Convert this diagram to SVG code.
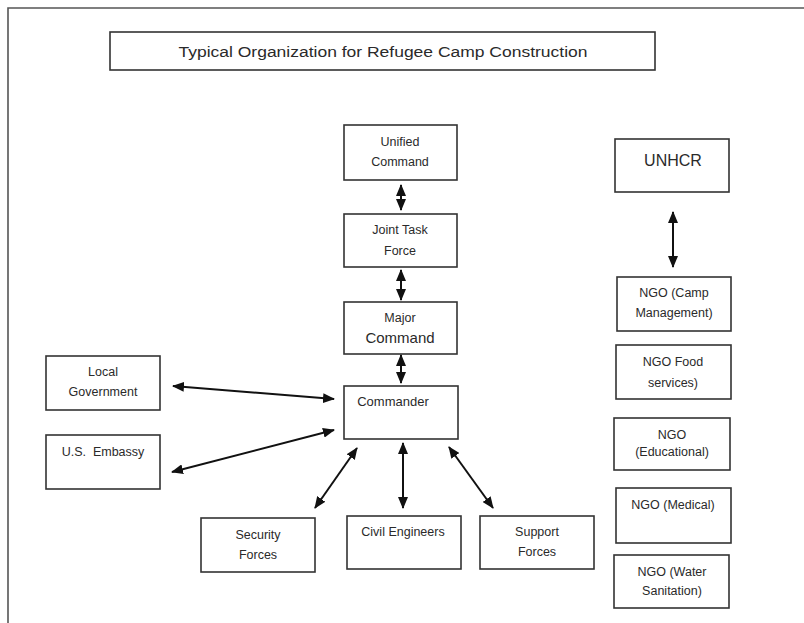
<svg xmlns="http://www.w3.org/2000/svg" width="804" height="623" viewBox="0 0 804 623">
<style>
.box{fill:#fff;stroke:#333;stroke-width:1.6}
.t{font-family:"Liberation Sans",Arial,sans-serif;font-size:12.5px;fill:#2a2a2a;text-anchor:middle}
.c{stroke:#111;stroke-width:2;fill:none;marker-start:url(#ah);marker-end:url(#ah)}
</style>
<defs>
<marker id="ah" markerUnits="userSpaceOnUse" markerWidth="12" markerHeight="10" refX="11" refY="5" orient="auto-start-reverse">
<path d="M0,0 L12,5 L0,10 z" fill="#111"/>
</marker>
</defs>
<rect width="804" height="623" fill="#fff"/>
<path d="M8,623 V8 H804" fill="none" stroke="#555" stroke-width="1.6"/>
<g id="title">
<rect class="box" x="110" y="32" width="545" height="38"/>
<text class="t" x="383" y="57" style="font-size:15.5px" textLength="409" lengthAdjust="spacingAndGlyphs">Typical Organization for Refugee Camp Construction</text>
</g>
<g id="unified">
<rect class="box" x="344" y="125" width="113" height="55"/>
<text class="t" x="400" y="146">Unified</text>
<text class="t" x="400" y="166">Command</text>
</g>
<g id="jtf">
<rect class="box" x="344" y="214" width="113" height="53"/>
<text class="t" x="400" y="234">Joint Task</text>
<text class="t" x="400" y="255">Force</text>
</g>
<g id="major">
<rect class="box" x="344" y="302" width="113" height="52"/>
<text class="t" x="400" y="322">Major</text>
<text class="t" x="400" y="343" style="font-size:15px">Command</text>
</g>
<g id="commander">
<rect class="box" x="344" y="386" width="114" height="53"/>
<text class="t" x="393" y="406" style="font-size:13px">Commander</text>
</g>
<g id="localgov">
<rect class="box" x="46" y="356" width="114" height="54"/>
<text class="t" x="103" y="376">Local</text>
<text class="t" x="103" y="396">Government</text>
</g>
<g id="embassy">
<rect class="box" x="46" y="435" width="114" height="54"/>
<text class="t" x="103" y="456" xml:space="preserve">U.S.  Embassy</text>
</g>
<g id="security">
<rect class="box" x="201" y="518" width="114" height="54"/>
<text class="t" x="258" y="539">Security</text>
<text class="t" x="258" y="559">Forces</text>
</g>
<g id="civil">
<rect class="box" x="347" y="516" width="114" height="53"/>
<text class="t" x="403" y="536">Civil Engineers</text>
</g>
<g id="support">
<rect class="box" x="480" y="516" width="114" height="53"/>
<text class="t" x="537" y="536">Support</text>
<text class="t" x="537" y="556">Forces</text>
</g>
<g id="unhcr">
<rect class="box" x="615" y="139" width="114" height="53"/>
<text class="t" x="673" y="166" style="font-size:16px">UNHCR</text>
</g>
<g id="ngo-camp">
<rect class="box" x="617" y="277" width="114" height="54"/>
<text class="t" x="674" y="297">NGO (Camp</text>
<text class="t" x="674" y="317">Management)</text>
</g>
<g id="ngo-food">
<rect class="box" x="616" y="345" width="115" height="54"/>
<text class="t" x="673" y="366">NGO Food</text>
<text class="t" x="673" y="387">services)</text>
</g>
<g id="ngo-edu">
<rect class="box" x="614" y="418" width="116" height="52"/>
<text class="t" x="672" y="439">NGO</text>
<text class="t" x="672" y="456">(Educational)</text>
</g>
<g id="ngo-med">
<rect class="box" x="616" y="488" width="115" height="55"/>
<text class="t" x="673" y="509">NGO (Medical)</text>
</g>
<g id="ngo-water">
<rect class="box" x="614" y="555" width="115" height="53"/>
<text class="t" x="672" y="576">NGO (Water</text>
<text class="t" x="672" y="595">Sanitation)</text>
</g>
<g id="connectors">
<line class="c" x1="401" y1="185" x2="401" y2="210"/>
<line class="c" x1="401" y1="270" x2="401" y2="300"/>
<line class="c" x1="401" y1="355" x2="401" y2="383"/>
<line class="c" x1="173" y1="386" x2="334" y2="399"/>
<line class="c" x1="172" y1="472" x2="334" y2="430"/>
<line class="c" x1="357" y1="448" x2="315" y2="508"/>
<line class="c" x1="403" y1="443" x2="403" y2="508"/>
<line class="c" x1="449" y1="447" x2="493" y2="508"/>
<line class="c" x1="673" y1="212" x2="673" y2="267"/>
</g>
</svg>
